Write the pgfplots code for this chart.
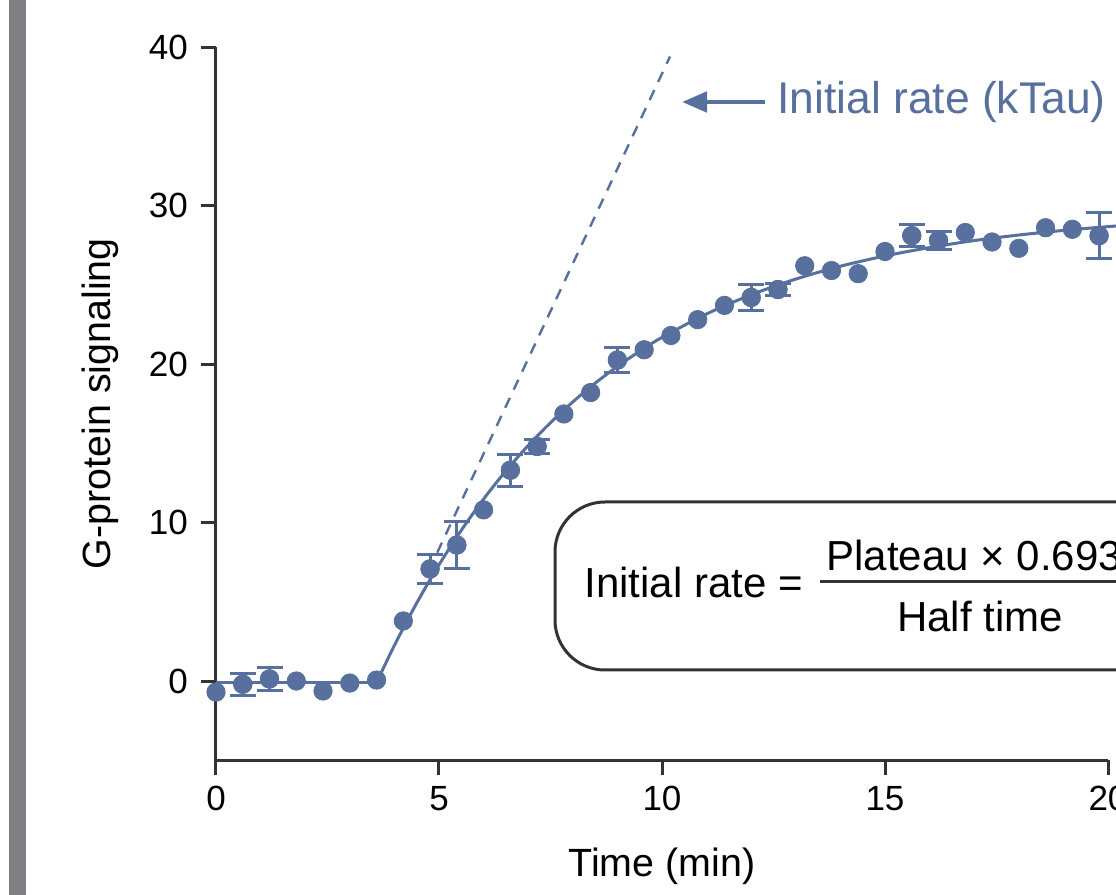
\documentclass[border=0pt]{standalone}
\usepackage{fontspec}
\setmainfont{Liberation Sans}
\usepackage{pgfplots}
\usepackage{pgfplotstable}
\pgfplotsset{compat=1.18}
\usetikzlibrary{arrows.meta}
\definecolor{pblue}{HTML}{58709E}
\definecolor{axgray}{HTML}{333333}
\definecolor{bargray}{HTML}{7F7F84}

\pgfplotstableread{
x y
0 -0.7
0.6 -0.2
1.2 0.13
1.8 0.0
2.4 -0.63
3.0 -0.13
3.6 0.06
4.2 3.79
4.8 7.07
5.4 8.58
6.0 10.8
6.6 13.3
7.2 14.8
7.8 16.85
8.4 18.2
9.0 20.25
9.6 20.9
10.2 21.8
10.8 22.8
11.4 23.7
12.0 24.2
12.6 24.7
13.2 26.2
13.8 25.9
14.4 25.7
15.0 27.1
15.6 28.1
16.2 27.8
16.8 28.3
17.4 27.7
18.0 27.3
18.6 28.6
19.2 28.5
19.8 28.1
}\datapts

\pgfplotstableread{
x y e
0.6 -0.2 0.7
1.2 0.13 0.7
4.8 7.07 0.9
5.4 8.58 1.5
6.6 13.3 1.0
7.2 14.8 0.45
9.0 20.25 0.8
12.0 24.2 0.8
12.6 24.7 0.4
15.6 28.1 0.7
16.2 27.8 0.55
19.8 28.1 1.45
}\errpts

\pgfplotstableread{
x y
3.6 -0.1
4.0 2.25
4.5 4.92
5.0 7.33
5.5 9.51
6.0 11.48
6.5 13.26
7.0 14.86
7.5 16.30
8.0 17.61
8.5 18.79
9.0 19.85
9.5 20.81
10.0 21.68
11.0 23.16
12.0 24.37
13.0 25.36
14.0 26.17
15.0 26.82
16.0 27.35
17.0 27.79
18.0 28.14
19.0 28.43
20.0 28.67
20.3 28.73
}\fitpts

\begin{document}
\begin{tikzpicture}[x=0.5pt,y=0.5pt]
\fill[white] (0,0) rectangle (1116,895);
\fill[bargray] (9,0) rectangle (26,895);
\begin{scope}
\clip (0,0) rectangle (1116,895);
\begin{axis}[
  at={(108pt,67.375pt)}, anchor=south west,
  scale only axis, width=446pt, height=356.6pt,
  xmin=0, xmax=20, ymin=-5, ymax=40,
  axis lines*=left,
  axis line style={axgray, line width=1.5pt},
  xtick={0,5,...,20}, ytick={0,10,...,40},
  tick align=outside, major tick length=7.5pt,
  tick style={axgray, line width=1.5pt},
  ticklabel style={font=\fontsize{17.5}{21}\selectfont, black},
  xticklabel style={yshift=-2pt},
  yticklabel style={xshift=-3pt},
  /pgf/number format/assume math mode=true,
  xlabel={Time (min)}, ylabel={G-protein signaling},
  label style={font=\fontsize{19.7}{23}\selectfont},
  xlabel style={at={(axis description cs:0.5,-0.1487)}, anchor=center},
  ylabel style={at={(axis description cs:-0.130,0.5)}, anchor=center},
  clip=false,
]
\addplot[pblue, line width=1.5pt] coordinates {(0,-0.1) (3.6,-0.1)};
\addplot[pblue, line width=1.5pt, smooth] table {\fitpts};
\addplot[pblue, line width=1.2pt, dash pattern=on 5.5pt off 4.5pt] coordinates {(4.96,8.1) (10.18,39.4)};
\addplot[only marks, mark=*, mark size=4.6pt, pblue,
  error bars/.cd, y dir=both, y explicit,
  error bar style={line width=1.5pt, pblue},
  error mark options={rotate=90, mark size=6.5pt, line width=1.5pt, pblue}]
  table[x=x, y=y, y error=e] {\errpts};
\addplot[only marks, mark=*, mark size=4.6pt, pblue] table {\datapts};
\end{axis}
\draw[pblue, line width=2.4pt, -{Triangle[length=12.5pt,width=10pt]}] (765,793) -- (682,793);
\node[pblue, anchor=west, inner sep=0pt, font=\fontsize{22.2}{26}\selectfont] at (777,793) {Initial rate (kTau)};
\draw[axgray, line width=1.5pt, rounded corners=25pt] (555,225) rectangle (1300,393);
\node[anchor=base west, inner sep=0pt, font=\fontsize{21}{25}\selectfont] at (584,297) {Initial rate =};
\node[anchor=base west, inner sep=0pt, font=\fontsize{21}{25}\selectfont] at (826,324) {Plateau × 0.693};
\draw[axgray, line width=1.5pt] (820,313) -- (1300,313);
\node[anchor=base, inner sep=0pt, font=\fontsize{21}{25}\selectfont] at (980,263) {Half time};
\end{scope}
\pgfresetboundingbox
\useasboundingbox (0,0) rectangle (1116,895);
\end{tikzpicture}
\end{document}
